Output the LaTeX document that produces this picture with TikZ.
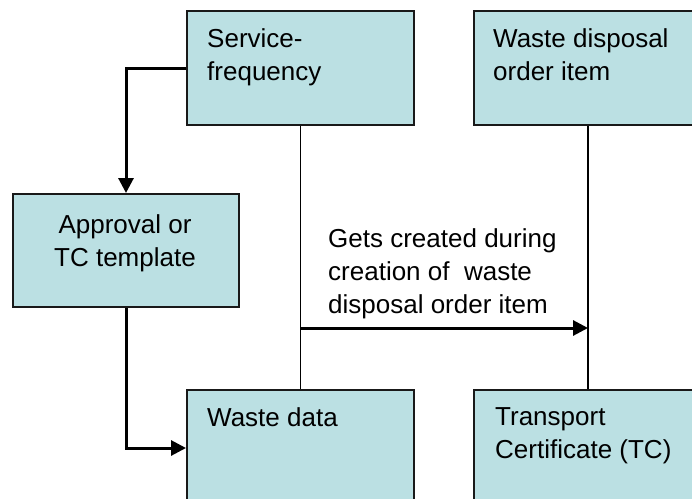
\documentclass[tikz,border=0pt]{standalone}
\usepackage{fontspec}
\setmainfont{Liberation Sans}
\usetikzlibrary{arrows.meta}
\definecolor{boxfill}{RGB}{187,224,227}
\begin{document}
\begin{tikzpicture}%
	[x=1pt, y=-1pt,
	font=\fontsize{26}{33}\selectfont,
	box/.style={draw=black!90, line width=2pt, fill=boxfill, rectangle, anchor=north west, inner sep=0pt},
	boxtext/.style={inner sep=0pt, align=left, anchor=north west},
	link/.style={draw=black, line width=1.5pt},
	flow/.style={draw=black, line width=3pt, -{Triangle[length=15pt,width=15pt]}}]
%
%% Frame of the picture:
%%
\useasboundingbox (0,0) rectangle (692,498);
\clip (0,0) rectangle (692,498);
%%
%% Drawing the boxes
%%
\node[box, minimum width=227pt, minimum height=114pt] (freq) at (186,10) {};
\node[box, minimum width=228pt, minimum height=114pt] (order) at (473,10) {};
\node[box, minimum width=226pt, minimum height=113pt] (approval) at (12,193) {};
\node[box, minimum width=227pt, minimum height=116pt] (wastedata) at (186,389) {};
\node[box, minimum width=228pt, minimum height=116pt] (tc) at (473,389) {};
%%
%% Texts of the boxes
%%
\node[boxtext] (freq-text) at ([xshift=21pt,yshift=-18pt]freq.north west) {Service-\\frequency};
\node[boxtext] (order-text) at ([xshift=20pt,yshift=-18pt]order.north west) {Waste disposal\\order item};
\node[boxtext, align=center, anchor=north] (approval-text) at (125,214) {Approval or\\TC template};
\node[boxtext] (wastedata-text) at ([xshift=21pt,yshift=-18pt]wastedata.north west) {Waste data};
\node[boxtext] (tc-text) at ([xshift=22pt,yshift=-18pt]tc.north west) {Transport\\Certificate (TC)};
%%
%% Drawing the links
%%
\draw[link] (freq.south) -- (wastedata.north);
\draw[link] (order.south) -- (tc.north);
\draw[flow] (freq.west) -| (approval.north);
\draw[flow] (approval.south) |- (wastedata.west);
%%
%% Creation arrow
%%
\coordinate (gets) at (freq.south |- 0,328);
\draw[flow] (gets) -- (gets -| order.south);
\node[boxtext] (note) at (328,228) {Gets created during\\creation of~ waste\\disposal order item};
%%
\end{tikzpicture}
\end{document}
